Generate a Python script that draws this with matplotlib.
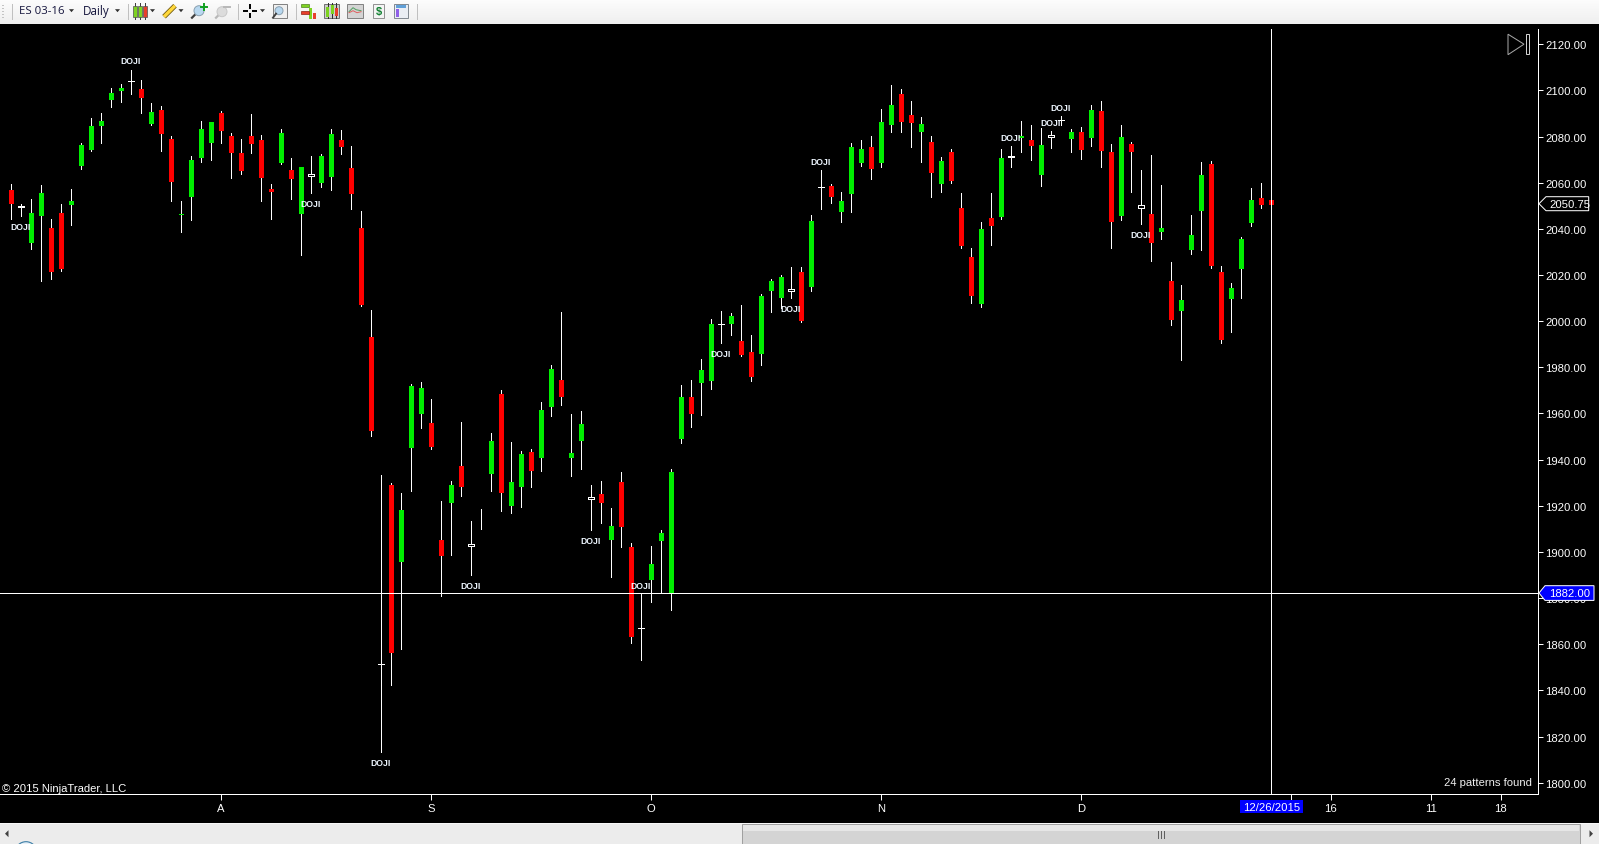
import matplotlib
matplotlib.use('Agg')
import matplotlib.pyplot as plt
import numpy as np
from matplotlib.patches import Rectangle, Polygon, Circle, Ellipse

# Daily ES 03-16 bars
highs = [2059.5, 2050.75, 2053, 2059, 2044.25, 2050.75, 2057.25, 2077.25, 2088, 2090.25,
         2101, 2102.75, 2109, 2104.5, 2094.5, 2093.25, 2080.25, 2052, 2071.5, 2086.75,
         2086.25, 2091, 2081.5, 2079, 2089.75, 2080.75, 2059.5, 2083.25, 2070.75, 2066.75,
         2071.5, 2072.5, 2083.25, 2082.75, 2076, 2047.75, 2004.75, 1933.25, 1930, 1925.5,
         1972.75, 1973.75, 1966.25, 1922, 1930.75, 1956.25, 1913.5, 1918.5, 1951.5, 1970.25,
         1947.75, 1943.75, 1944.5, 1965, 1981, 2004, 1959.75, 1961, 1929, 1930.75,
         1919, 1934.75, 1903.75, 1882.25, 1902.5, 1909.5, 1936, 1972.25, 1974.5, 1983.5,
         2001, 2004.5, 2003.5, 2007, 1994, 2011.75, 2018.25, 2020, 2023.5, 2023.5,
         2046, 2065.5, 2059.5, 2056, 2077.25, 2078.5, 2080.25, 2092, 2102.25, 2100.5,
         2095.5, 2088.5, 2080.25, 2071.25, 2074.5, 2055.5, 2031.75, 2043, 2055.5, 2074.5,
         2076, 2086.75, 2085, 2083.75, 2082.5, 2089, 2083.25, 2084.25, 2093.75, 2095.5,
         2076.75, 2085, 2077.75, 2065.5, 2072, 2059, 2025.75, 2015.75, 2046, 2069,
         2069.5, 2024, 2016.5, 2036.5, 2057.75, 2060, 2052.5]
opens = [2056.75, 2050, 2034.25, 2046, 2040.5, 2047, 2050.75, 2067.75, 2074.5, 2085,
         2096.25, 2100.25, 2104.25, 2100.75, 2086, 2091.5, 2079, 2046.25, 2054.25, 2071.25,
         2077.75, 2090.25, 2080.25, 2073, 2080.25, 2078.5, 2057.25, 2069, 2065.5, 2047,
         2063.75, 2060.25, 2063, 2078.5, 2066.5, 2040.5, 1993.25, 1851.25, 1929, 1896,
         1945.5, 1960.25, 1956, 1905.25, 1921.75, 1937.25, 1903.5, 1914, 1934.25, 1968.5,
         1920.25, 1928.5, 1943.25, 1941.25, 1963.25, 1974.5, 1941.25, 1948.5, 1923.75, 1925,
         1905.5, 1930.25, 1902, 1867, 1888.25, 1905.25, 1882, 1949.5, 1967.25, 1973.75,
         1974.5, 1999, 1999.25, 1991.5, 1986.75, 1986.25, 2013.5, 2010.5, 2013.75, 2021.25,
         2015.25, 2058, 2058.5, 2047.75, 2055.5, 2069, 2075.5, 2069, 2085.5, 2098.5,
         2089.25, 2082.5, 2077.75, 2060, 2073.25, 2049, 2027.75, 2007.75, 2044.75, 2045.5,
         2071.5, 2079.75, 2078.5, 2063.75, 2080.5, 2087.25, 2079.5, 2082, 2079.75, 2091,
         2073.25, 2046, 2076.75, 2050.25, 2046.5, 2039, 2017.5, 2004.75, 2031.25, 2048.25,
         2068, 2021.25, 2010, 2023, 2043, 2053.5, 2052.5]
closes = [2051.25, 2049.5, 2047, 2055.5, 2021.75, 2023, 2052, 2076.25, 2084.5, 2086.75,
          2099, 2101, 2104, 2097.25, 2090.75, 2081.5, 2060.75, 2046.5, 2069.75, 2083.25,
          2086.25, 2082.75, 2073.25, 2065.5, 2077.25, 2062.5, 2056.5, 2081.5, 2062, 2066.75,
          2062.75, 2071.5, 2081, 2076, 2055.5, 2007.5, 1952.75, 1851.25, 1856.75, 1918.25,
          1972, 1971, 1946, 1898.75, 1929, 1928.5, 1902.75, 1914, 1948, 1926,
          1930.25, 1942.5, 1935.5, 1961.5, 1979.25, 1967.5, 1943, 1955.5, 1922.75, 1921.75,
          1911.25, 1911.25, 1863.5, 1867, 1894.75, 1908.25, 1934.75, 1967.25, 1960.25, 1978.75,
          1998.75, 1998.75, 2002.25, 1985.75, 1976.25, 2011, 2017.5, 2019.25, 2013.25, 2000.5,
          2043.5, 2058, 2054.25, 2052, 2075.5, 2074.5, 2066.5, 2086.25, 2093.75, 2086.75,
          2086.25, 2085.5, 2064.75, 2069.5, 2061.25, 2033, 2011.25, 2040, 2041.75, 2070.75,
          2071, 2080.25, 2076.25, 2076.25, 2080, 2087.25, 2082, 2074.5, 2091.5, 2074.25,
          2043.5, 2079.75, 2073.75, 2049.25, 2034.5, 2040.5, 2001, 2009.25, 2037.25, 2063.25,
          2024.25, 1992.25, 2014.5, 2035.5, 2052.5, 2050.75, 2050.75]
lows = [2044.25, 2045.5, 2031.25, 2017.5, 2018.25, 2021.75, 2041.75, 2066, 2073.75, 2077.25,
        2092.75, 2095, 2098.5, 2090.25, 2085, 2073.75, 2052, 2038.75, 2044, 2069,
        2069.75, 2077.25, 2062, 2063.75, 2073, 2052, 2044.25, 2068, 2053, 2028.75,
        2055.5, 2058.25, 2056.75, 2072.5, 2048.5, 2006.5, 1950.25, 1813.25, 1842.25, 1858,
        1926.5, 1953.75, 1944.5, 1881, 1898.75, 1924.25, 1890, 1910, 1926.5, 1917.75,
        1917, 1919.5, 1928, 1935, 1959, 1963.75, 1933, 1936, 1909.5, 1912.5,
        1889, 1902, 1860.5, 1853.25, 1878.25, 1882, 1875, 1947.25, 1954, 1959.25,
        1970.5, 1990.5, 1994, 1985, 1974, 1981, 2004, 2005.75, 2010, 1999.75,
        2013, 2048.5, 2051.25, 2043, 2047.25, 2067.25, 2061.5, 2066.75, 2082, 2082,
        2075.5, 2069, 2053.75, 2056, 2060, 2031.75, 2007.75, 2006.25, 2033, 2044.25,
        2066.75, 2073.25, 2069.75, 2058.5, 2075, 2085, 2073.25, 2070.25, 2076, 2066.75,
        2031.75, 2043.75, 2056, 2042, 2026, 2035.5, 1998.25, 1983.25, 2029, 2030.75,
        2023, 1990.5, 1995.25, 2010, 2041.25, 2049, 2050.75]

doji_bars = [1, 12, 30, 37, 46, 58, 63, 71, 78, 81, 100, 104, 105, 113]
wick_only_bars = [47]
doji_label_prices = [2041.2, 2112.8, 2051.2, 1808.9, 1885.6, 1905.1, 1885.6,
                     1986.2, 2005.7, 2069.4, 2079.8, 2086.3, 2092.8, 2037.7]

price_ticks = list(range(1800, 2121, 20))
date_tick_bars = [21, 42, 64, 87, 107, 128, 132, 142, 149]
date_tick_labels = ['A', 'S', 'O', 'N', 'D', '', '16', '11', '18']

last_price = 2050.75
cross_price = 1882.00
cross_bar = 126
cross_date = '12/26/2015'
patterns_text = '24 patterns found'
copyright_text = '\u00a9 2015 NinjaTrader, LLC'

W, H = 1599, 845
GREEN = '#00ee00'
RED = '#ff0000'
PX = 0.72  # one screen pixel in points at dpi 100
FONT = 'Liberation Sans'

fig = plt.figure(figsize=(W / 100, H / 100), dpi=100, facecolor='black')
ax = fig.add_axes([0, (H - 795) / H, 1538 / W, (795 - 30) / H], facecolor='black')
ax.set_xlim(-1.08, 152.72)
ax.set_ylim(1795.1, 2126.63)

# candles
bars = np.arange(len(highs))
o = np.array(opens)
c = np.array(closes)
ax.vlines(bars, lows, highs, colors='white', lw=PX, antialiased=False, zorder=2)

special = set(doji_bars) | set(wick_only_bars)
normal = np.array([i for i in bars if i not in special])
colors = [GREEN if c[i] > o[i] else RED for i in normal]
ax.bar(normal, np.abs(c[normal] - o[normal]), bottom=np.minimum(o, c)[normal], width=0.4,
       color=colors, edgecolor=colors, lw=PX, antialiased=False, zorder=3)
ax.bar(doji_bars, np.abs(c[doji_bars] - o[doji_bars]), bottom=np.minimum(o, c)[doji_bars], width=0.6,
       color='black', edgecolor='white', lw=PX, antialiased=False, zorder=3)

# crosshair
ax.axhline(cross_price, color='white', lw=PX, antialiased=False, zorder=4)
ax.axvline(cross_bar, color='white', lw=PX, antialiased=False, zorder=4)

for b, p in zip(doji_bars, doji_label_prices):
    ax.text(b, p, 'DOJI', color='#eef6ff', fontsize=6.2, fontweight='bold', family=FONT,
            ha='center', va='center', zorder=5)

# axes
for side in ['top', 'left']:
    ax.spines[side].set_visible(False)
for side in ['right', 'bottom']:
    ax.spines[side].set_color('white')
    ax.spines[side].set_linewidth(PX)
ax.yaxis.tick_right()
ax.set_yticks(price_ticks)
ax.set_yticklabels(['%.2f' % p for p in price_ticks], family=FONT, fontsize=8.1, color='white')
ax.set_xticks(date_tick_bars)
ax.set_xticklabels(date_tick_labels, family=FONT, fontsize=8.1, color='white')
ax.tick_params(axis='y', length=3.6, width=PX, color='white', pad=1.8)
ax.tick_params(axis='x', length=4.3, width=PX, color='white', pad=2.5)

# everything around the chart is drawn in screen pixels on a second axes
ui = fig.add_axes([0, 0, 1, 1], facecolor='none', zorder=10)
ui.set_xlim(0, W)
ui.set_ylim(H - 0.7, -0.7)
ui.axis('off')


def box(x0, y0, x1, y1, **kw):
    kw.setdefault('lw', 0)
    ui.add_patch(Rectangle((x0, y0), x1 - x0, y1 - y0, **kw))


# price flags
ui.add_patch(Polygon([(1539, 204), (1546, 197), (1588.7, 197), (1588.7, 211), (1546, 211)],
                     fc='black', ec='white', lw=PX))
ui.text(1549, 204, '%.2f' % last_price, color='white', family=FONT, fontsize=8.1, va='center')
ui.add_patch(Polygon([(1539, 593.3), (1545, 586), (1594, 586), (1594, 600.7), (1545, 600.7)],
                     fc='#0000ff', ec='white', lw=PX))
ui.text(1549, 593.3, '%.2f' % cross_price, color='white', family=FONT, fontsize=8.1, va='center')

# date flag
box(1240, 800, 1303, 813.7, fc='#0000ff')
ui.text(1271.5, 807, cross_date, color='white', family=FONT, fontsize=8.1, ha='center', va='center')

ui.text(1532, 782, patterns_text, color='#f0f0f0', family=FONT, fontsize=8.1, ha='right', va='center')
ui.text(2, 788, copyright_text, color='white', family=FONT, fontsize=8.1, ha='left', va='center')

# go-to-last-bar button
ui.add_patch(Polygon([(1508, 34.5), (1524, 44.5), (1508, 55)], fc='none', ec='#a8a8a8', lw=PX))
box(1525.5, 34.5, 1529, 54.5, fc='none', ec='#d0d0d0', lw=PX)

# toolbar
grad = np.linspace(0, 1, 24)[:, None]
ui.imshow(grad, extent=(0, W, 24, -1), cmap=matplotlib.colors.LinearSegmentedColormap.from_list(
    'bar', ['#fdfdfd', '#efefef']), aspect='auto', zorder=1)
ui.set_xlim(0, W)
ui.set_ylim(H - 0.7, -0.7)
for y in [5, 8, 11, 14, 17]:
    box(2, y, 4, y + 1.5, fc='#c4c4c4', zorder=2)
for x in [11.5, 127.5, 237.5, 295.5, 416.5]:
    ui.plot([x, x], [4, 19], color='#c0c0c0', lw=PX, zorder=2)
ui.text(19, 10.5, 'ES 03-16', family='Open Sans', fontsize=8.2, color='#14143c', va='center', zorder=3)
ui.text(83, 10.5, 'Daily', family='Open Sans', fontsize=8.4, color='#14143c', va='center', zorder=3)
for x in [71.5, 117.5, 152.5, 181, 262.5]:
    ui.add_patch(Polygon([(x - 2.5, 9.5), (x + 2.5, 9.5), (x, 12.5)], fc='#303030', lw=0, zorder=3))

# chart style icon
for x, col in [(135, '#7ed321'), (140, '#7ed321'), (145, '#e8402c')]:
    ui.plot([x, x], [3, 19], color='#404040', lw=PX, zorder=2)
    box(x - 2, 6, x + 2, 17, fc=col, ec='#505050', lw=0.5, zorder=3)
# pencil
ui.plot([164, 175], [17, 6], color='#705a10', lw=3.6, solid_capstyle='butt', zorder=2)
ui.plot([164, 175], [17, 6], color='#ffd83c', lw=2.4, solid_capstyle='butt', zorder=3)
# zoom in / zoom out
ui.plot([192, 197], [18, 13], color='#404040', lw=1.6, zorder=2)
ui.add_patch(Circle((199, 11), 5, fc='#b8d8f0', ec='#8aa0b0', lw=0.7, zorder=3))
ui.plot([201, 207], [7, 7], color='#10a020', lw=1.4, zorder=4)
ui.plot([204, 204], [4, 10], color='#10a020', lw=1.4, zorder=4)
ui.plot([216, 221], [18, 13], color='#b8b8b8', lw=1.6, zorder=2)
ui.add_patch(Circle((222, 12), 5, fc='#dcdcdc', ec='#c8c8c8', lw=0.7, zorder=3))
ui.plot([224, 230], [7, 7], color='#b8b8b8', lw=1.4, zorder=4)
# crosshair tool
for xs, ys in [([243, 248], [11, 11]), ([252, 257], [11, 11]), ([250, 250], [4, 9]), ([250, 250], [13, 18])]:
    ui.plot(xs, ys, color='black', lw=1.4, solid_capstyle='butt', zorder=3)
# find icon
box(273, 4, 287, 18, fc='#f0f0f0', ec='#808080', lw=0.7, zorder=2)
ui.add_patch(Circle((279, 11), 4, fc='#b8d8f0', ec='#8aa0b0', lw=0.7, zorder=3))
ui.plot([273, 276], [18, 14], color='#404040', lw=1.4, zorder=4)
# order icon
box(301, 4, 309, 7, fc='#7ed321', ec='#508020', lw=0.5, zorder=3)
box(301, 11, 309, 14, fc='#e8402c', ec='#902010', lw=0.5, zorder=3)
box(309, 8, 312, 19, fc='#7ed321', lw=0, zorder=2)
box(313, 13, 316, 19, fc='#e8402c', lw=0, zorder=2)
# chart icon
box(324, 4, 339, 18, fc='#cccccc', ec='#707070', lw=0.7, zorder=2)
for x, col, y0, y1 in [(327.5, '#7ed321', 7, 17), (332, '#7ed321', 5, 14), (336, '#e8402c', 8, 16)]:
    ui.plot([x, x], [3.5, 18.5], color='#303030', lw=PX, zorder=3)
    box(x - 1.5, y0, x + 1.5, y1, fc=col, zorder=4)
# indicator icon
box(347, 4, 363, 18, fc='#d4d4d4', ec='#808080', lw=0.7, zorder=2)
ui.plot([349, 353, 356, 361], [12, 8, 10, 11], color='#50a060', lw=0.7, zorder=3)
ui.plot([349, 353, 357, 361], [13, 11, 13, 12], color='#e06060', lw=0.7, zorder=3)
# strategy icon
box(373, 4, 384, 18, fc='#f4f4f4', ec='#909090', lw=0.7, zorder=2)
ui.text(378.5, 11.5, '$', color='#108030', fontsize=8, fontweight='bold', ha='center', va='center',
        family=FONT, zorder=3)
# table icon
box(394, 4, 408, 18, fc='#eaeef4', ec='#808890', lw=0.7, zorder=2)
box(396, 5.5, 406, 8, fc='#60a0d8', zorder=3)
box(396, 9, 398.5, 17, fc='#9060e8', zorder=3)

# bottom scroll bar
box(0, 823, W, H + 1, fc='#ececec', zorder=1)
ui.plot([0, W], [823, 823], color='#f8f8f8', lw=PX, zorder=2)
box(742, 824, 1580, H + 1, fc='#d4d4d4', ec='#a0a0a0', lw=PX, zorder=2)
box(743, 825, 1579, 831, fc='#e6e6e6', zorder=3)
for x in [1157.5, 1160.5, 1163.5]:
    ui.plot([x, x], [831, 838], color='#606060', lw=PX, zorder=3)
ui.add_patch(Polygon([(5, 834), (8.5, 830.5), (8.5, 837.5)], fc='#404040', lw=0, zorder=3))
ui.add_patch(Polygon([(1593, 834), (1589.5, 830.5), (1589.5, 837.5)], fc='#404040', lw=0, zorder=3))
ui.add_patch(Ellipse((26, 853), 22, 22, fc='#e6f0f8', ec='#3a7ca5', lw=0.8, zorder=3))

fig.savefig('out.png', dpi=100, facecolor='black')
